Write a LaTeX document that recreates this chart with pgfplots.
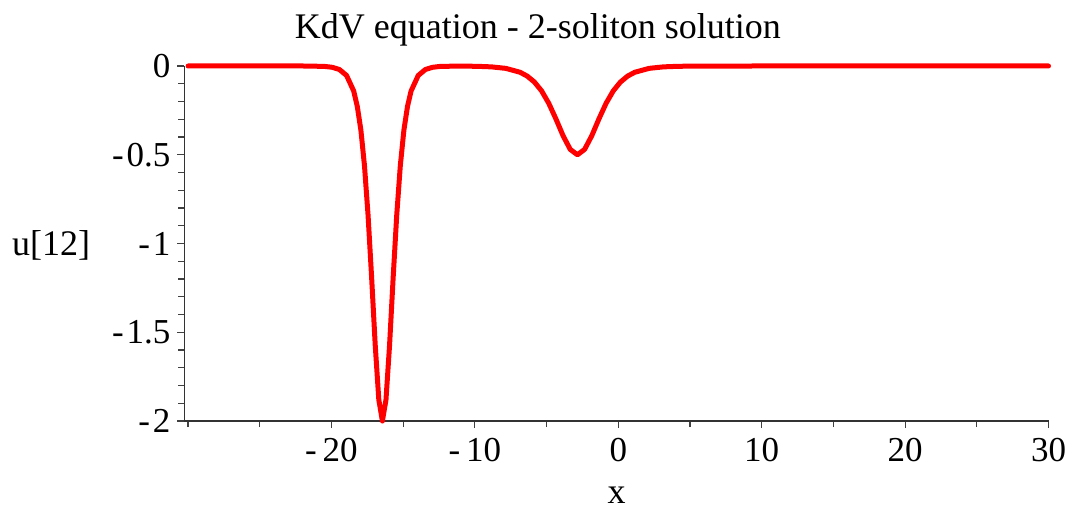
\documentclass[border=0pt]{standalone}
\usepackage{fontspec}
\setmainfont{Liberation Serif}
\usepackage{pgfplots}
\pgfplotsset{compat=1.18}

\begin{document}
\begin{tikzpicture}
\useasboundingbox (-92.25pt,-43.5pt) rectangle (445.25pt,210.5pt);
\begin{axis}[%
at={(0,0)}, anchor=south west,
width=432pt,
height=177.5pt,
scale only axis,
clip=false,
axis lines=left,
axis line style={-, black!80, line width=0.8pt},
xmin=-30.25, xmax=30,
ymin=-2, ymax=0,
xtick={-20,-10,0,10,20,30},
xticklabels={-\,20,-\,10,0,10,20,30},
minor xtick={-30,-25,-15,-5,5,15,25},
ytick={-2,-1.5,-1,-0.5,0},
yticklabels={-\kern1.5pt2,-\kern1.5pt1.5,-\kern1.5pt1,-\kern1.5pt0.5,0},
minor ytick={-1.9,-1.8,-1.7,-1.6,-1.4,-1.3,-1.2,-1.1,-0.9,-0.8,-0.7,-0.6,-0.4,-0.3,-0.2,-0.1},
tick align=outside,
major tick length=3.5pt,
minor tick length=3pt,
tick style={black!75, line width=0.6pt},
tick label style={font=\fontsize{17.5}{20}\selectfont, black},
xticklabel style={yshift=-1.5pt},
title={KdV equation - 2-soliton solution},
title style={font=\fontsize{18}{21}\selectfont, at={(axis description cs:0.409,1.045)}, anchor=base},
xlabel={x},
xlabel style={font=\fontsize{18}{21}\selectfont, at={(axis description cs:0.5,-0.231)}, anchor=base},
ylabel={u[12]},
ylabel style={font=\fontsize{18}{21}\selectfont, rotate=-90, at={(axis description cs:-0.1545,0.465)}, anchor=base},
]
\addplot [color=red, line width=2.5pt, line join=round, line cap=round]
table[row sep=crcr]{
-30 0\\
-25 0\\
-22 0\\
-21.45 -0.0004\\
-20.45 -0.0027\\
-19.95 -0.0073\\
-19.45 -0.0197\\
-18.95 -0.0532\\
-18.45 -0.141\\
-18.2 -0.228\\
-17.95 -0.361\\
-17.7 -0.561\\
-17.45 -0.840\\
-17.2 -1.193\\
-16.95 -1.573\\
-16.7 -1.880\\
-16.45 -2\\
-16.2 -1.880\\
-15.95 -1.573\\
-15.7 -1.193\\
-15.45 -0.840\\
-15.2 -0.561\\
-14.95 -0.361\\
-14.7 -0.228\\
-14.45 -0.141\\
-13.95 -0.0532\\
-13.45 -0.0197\\
-12.95 -0.0073\\
-12.45 -0.0027\\
-11.45 -0.0008\\
-10.85 -0.0007\\
-9.85 -0.0018\\
-8.85 -0.0049\\
-7.85 -0.0133\\
-6.85 -0.0353\\
-6.35 -0.0569\\
-5.85 -0.0904\\
-5.35 -0.140\\
-4.85 -0.210\\
-4.35 -0.298\\
-3.85 -0.393\\
-3.35 -0.470\\
-2.85 -0.5\\
-2.35 -0.470\\
-1.85 -0.393\\
-1.35 -0.298\\
-0.85 -0.210\\
-0.35 -0.140\\
0.15 -0.0904\\
0.65 -0.0569\\
1.15 -0.0353\\
2.15 -0.0133\\
3.15 -0.0049\\
4.15 -0.0018\\
5.15 -0.0007\\
7.15 -0.0001\\
10 0\\
20 0\\
30 0\\
};
\end{axis}
\end{tikzpicture}
\end{document}
